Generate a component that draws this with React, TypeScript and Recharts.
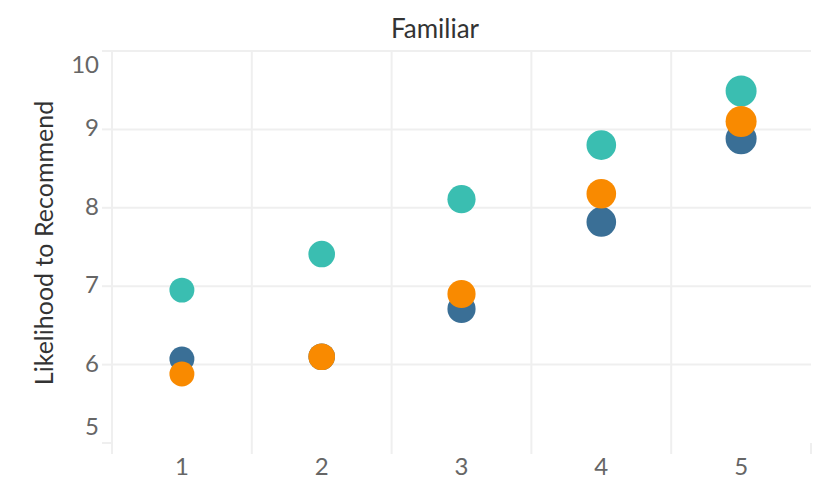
import React from 'react';
import {
  ScatterChart,
  Scatter,
  XAxis,
  YAxis,
  ZAxis,
  CartesianGrid,
  Label,
} from 'recharts';

const categories = [1, 2, 3, 4, 5];
const tealValues = [6.95, 7.41, 8.11, 8.8, 9.49];
const blueValues = [6.07, 6.1, 6.71, 7.82, 8.88];
const orangeValues = [5.88, 6.1, 6.9, 8.18, 9.1];
const yTicks = [5, 6, 7, 8, 9, 10];
const xTicks = [0.5, 1, 1.5, 2, 2.5, 3, 3.5, 4, 4.5, 5, 5.5];

const toPoints = (values: number[]) =>
  categories.map((c, i) => ({ x: c, y: values[i] }));

const GRID = '#efefef';
const TICK_TEXT = '#666666';
const FONT = 'Lato, sans-serif';

const XTick = (props: any) => {
  const { x, y, payload } = props;
  const v = payload.value;
  if (!Number.isInteger(v)) {
    return <line x1={x} x2={x} y1={y} y2={y + 11} stroke={GRID} strokeWidth={2} />;
  }
  return (
    <text x={x} y={y + 32} textAnchor="middle" fill={TICK_TEXT} fontSize={24} fontFamily={FONT}>
      {v}
    </text>
  );
};

const YTick = (props: any) => {
  const { x, y, payload } = props;
  const v = payload.value;
  let shift = 7;
  if (v === 10) shift = 22;
  if (v === 5) shift = -8;
  return (
    <g>
      <line x1={x - 10} x2={x} y1={y} y2={y} stroke={GRID} strokeWidth={2} />
      <text x={x - 13} y={y + shift} textAnchor="end" fill={TICK_TEXT} fontSize={24} fontFamily={FONT}>
        {v}
      </text>
    </g>
  );
};

export default function App() {
  return (
    <div style={{ margin: -8, width: 834, height: 503, background: '#fff' }}>
      <ScatterChart
        width={834}
        height={503}
        margin={{ top: 51, right: 23, bottom: 0, left: 12 }}
      >
        <CartesianGrid
          stroke={GRID}
          strokeWidth={2}
          horizontalValues={[6, 7, 8, 9, 10]}
          verticalValues={[0.5, 1.5, 2.5, 3.5, 4.5]}
        />
        <XAxis
          type="number"
          dataKey="x"
          domain={[0.5, 5.5]}
          ticks={xTicks}
          interval={0}
          height={60}
          axisLine={false}
          tickLine={false}
          tickSize={0}
          tickMargin={0}
          tick={<XTick />}
        />
        <YAxis
          type="number"
          dataKey="y"
          domain={[5, 10]}
          ticks={yTicks}
          interval={0}
          width={100}
          axisLine={false}
          tickLine={false}
          tickSize={0}
          tickMargin={0}
          tick={<YTick />}
        >
          <Label
            content={() => (
              <g>
                <text
                  x={53}
                  y={243}
                  transform="rotate(-90 53 243)"
                  textAnchor="middle"
                  fill="#333333"
                  fontSize={25}
                  fontFamily={FONT}
                >
                  Likelihood to Recommend
                </text>
                <text
                  x={435}
                  y={38}
                  textAnchor="middle"
                  fill="#333333"
                  fontSize={26}
                  fontFamily={FONT}
                >
                  Familiar
                </text>
              </g>
            )}
          />
        </YAxis>
        <ZAxis type="number" dataKey="x" domain={[1, 5]} range={[490, 755]} />
        <Scatter name="Teal" data={toPoints(tealValues)} fill="#3abeb1" isAnimationActive={false} />
        <Scatter name="Blue" data={toPoints(blueValues)} fill="#3a6f96" isAnimationActive={false} />
        <Scatter name="Orange" data={toPoints(orangeValues)} fill="#f98a00" isAnimationActive={false} />
      </ScatterChart>
    </div>
  );
}
